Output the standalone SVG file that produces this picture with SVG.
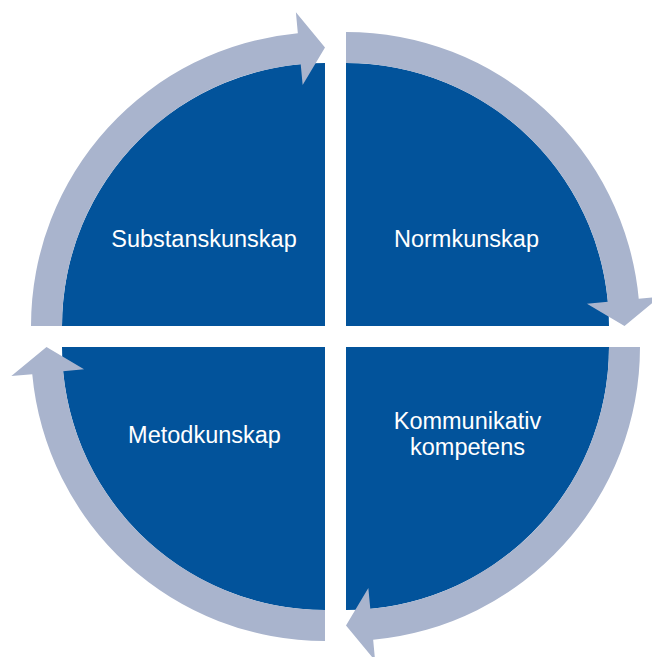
<svg xmlns="http://www.w3.org/2000/svg" xmlns:xlink="http://www.w3.org/1999/xlink" width="652" height="657" viewBox="0 0 652 657">
<style>
.pie{fill:#02539B}
.arr{fill:#A9B4CD}
.lbl{font-family:"Liberation Sans",Arial,sans-serif;font-size:23.5px;fill:#FFFFFF;text-anchor:middle}
</style>
<defs>
<path id="pie" d="M0 0 L-263 0 A263 263 0 0 1 0 -263 Z"/>
<path id="arrow" d="M-294 0 A294 294 0 0 1 -27.16 -292.74 L-29.10 -313.65 L0 -278.5 L-22.35 -240.96 L-24.29 -261.87 A263 263 0 0 0 -263 0 Z"/>
</defs>
<rect width="652" height="657" fill="#FFFFFF"/>
<g id="node-substanskunskap">
<use xlink:href="#pie" class="pie" transform="translate(325,326)"/>
<text class="lbl" x="204" y="247">Substanskunskap</text>
</g>
<g id="node-normkunskap">
<use xlink:href="#pie" class="pie" transform="translate(346,326) rotate(90)"/>
<text class="lbl" x="466.5" y="247">Normkunskap</text>
</g>
<g id="node-kommunikativ-kompetens">
<use xlink:href="#pie" class="pie" transform="translate(346,347) rotate(180)"/>
<text class="lbl" x="467.5" y="429">Kommunikativ</text>
<text class="lbl" x="467.5" y="455">kompetens</text>
</g>
<g id="node-metodkunskap">
<use xlink:href="#pie" class="pie" transform="translate(325,347) rotate(270)"/>
<text class="lbl" x="204.5" y="443">Metodkunskap</text>
</g>
<g id="connectors">
<use xlink:href="#arrow" class="arr" transform="translate(325,326)"/>
<use xlink:href="#arrow" class="arr" transform="translate(346,326) rotate(90)"/>
<use xlink:href="#arrow" class="arr" transform="translate(346,347) rotate(180)"/>
<use xlink:href="#arrow" class="arr" transform="translate(325,347) rotate(270)"/>
</g>
</svg>
